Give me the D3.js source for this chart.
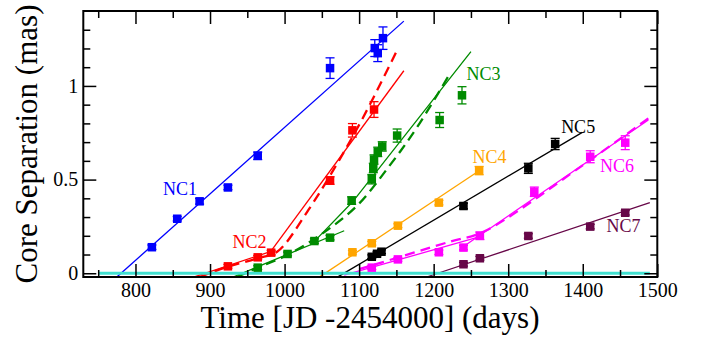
<!DOCTYPE html>
<html><head><meta charset="utf-8">
<script src="https://cdn.jsdelivr.net/npm/d3@7"></script>
<style>
body{margin:0;background:#fff}
svg{display:block}
text{font-family:"Liberation Serif","Times New Roman",serif}
</style>
</head><body>
<svg id="c" width="712" height="343"></svg>
<script>
// ---- tick labels ----
const xTicks=[800,900,1000,1100,1200,1300,1400,1500];
const xMinorTicks=[750,850,950,1050,1150,1250,1350,1450];
const yTicks=[0,0.5,1];
const yMinorTicks=[0.1,0.2,0.3,0.4,0.6,0.7,0.8,0.9,1.1,1.2,1.3];
const xTitle="Time [JD -2454000] (days)";
const yTitle="Core Separation (mas)";

// ---- series (time, separation, error) ----
const nc1Time=[822,856,886,924,964,1061,1121,1125,1132];
const nc1Sep=[0.139,0.291,0.384,0.458,0.627,1.095,1.202,1.175,1.255];
const nc1Err=[0.012,0.012,0.015,0.012,0.02,0.055,0.045,0.045,0.06];

const nc2Time=[924,964,982,1061,1091,1120];
const nc2Sep=[0.037,0.085,0.11,0.495,0.763,0.874];
const nc2Err=[0.01,0.01,0.012,0.02,0.036,0.042];

const nc3Time=[964,1004,1040,1061,1090,1117,1119,1120,1125,1131,1151,1208,1238];
const nc3Sep=[0.03,0.103,0.172,0.19,0.388,0.502,0.562,0.607,0.648,0.677,0.735,0.818,0.95];
const nc3Err=[0.01,0.01,0.012,0.012,0.02,0.025,0.025,0.025,0.025,0.025,0.035,0.04,0.046];

const nc4Time=[1091,1117,1152,1207,1261];
const nc4Sep=[0.112,0.16,0.254,0.377,0.548];
const nc4Err=[0.01,0.01,0.01,0.012,0.022];

const nc5Time=[1117,1124,1130,1240,1327,1363];
const nc5Sep=[0.088,0.104,0.115,0.359,0.56,0.69];
const nc5Err=[0.01,0.01,0.01,0.015,0.027,0.03];

const nc6Time=[1117,1152,1207,1240,1262,1335,1410,1457];
const nc6Sep=[0.03,0.074,0.112,0.137,0.2,0.435,0.622,0.697];
const nc6Err=[0.01,0.01,0.012,0.012,0.02,0.025,0.032,0.037];

const nc7Time=[1240,1262,1327,1410,1457];
const nc7Sep=[0.048,0.08,0.199,0.249,0.323];
const nc7Err=[0.01,0.01,0.012,0.012,0.012];

// ---- fitted lines: [time, separation] vertices ----
const nc1Fit=[[775,-0.02],[1160,1.346]];
const nc2FitEarly=[[880,-0.018],[983,0.118]];
const nc2FitLate=[[982,0.12],[1160,1.081]];
const nc2Curve=[[886,-0.02],[924,0.035],[964,0.08],[990,0.115],[1032,0.338],[1097,0.77],[1150,1.183]];
const nc3FitEarly=[[931,-0.02],[1080,0.227]];
const nc3FitLate=[[1040,0.17],[1091,0.38],[1250,1.183]];
const nc3Curve=[[936,-0.02],[964,0.03],[1004,0.098],[1050,0.21],[1097,0.36],[1140,0.57],[1177,0.775],[1222,1.067]];
const nc4Fit=[[1047.6,-0.018],[1262,0.55]];
const nc5Fit=[[1072,-0.018],[1399.4,0.752]];
const nc6FitEarly=[[1080,-0.01],[1262,0.195]];
const nc6FitLate=[[1239,0.14],[1488,0.818]];
const nc6Curve=[[1100,0.022],[1119,0.044],[1222,0.169],[1266,0.22],[1396,0.565],[1488,0.827]];
const nc7Fit=[[1190.6,-0.02],[1490,0.377]];
const zeroLine=[[750,0],[1490,0]];

// ---- series labels ----
const labelNames=["NC1","NC2","NC3","NC4","NC5","NC6","NC7"];
const labelX=[837,930,1244,1252,1371,1423,1432];
const labelY=[0.418,0.135,1.032,0.589,0.749,0.541,0.22];

const svg=d3.select("#c");
const W=712,H=343;
svg.append("rect").attr("width",W).attr("height",H).attr("fill","#fff");

const x=d3.scaleLinear().domain([730,1500]).range([83.3,657.3]);
const y=d3.scaleLinear().domain([-0.02,1.4]).range([277,11]);

const C={nc1:"#0000ff",nc2:"#ff0000",nc3:"#008b00",nc4:"#ffa500",nc5:"#000000",nc6:"#ff00ff",nc7:"#670748",zero:"#40e0d0"};
const labelCols=[C.nc1,C.nc2,C.nc3,C.nc4,C.nc5,C.nc6,C.nc7];

const line=d3.line().x(d=>x(d[0])).y(d=>y(d[1]));
const curve=d3.line().x(d=>x(d[0])).y(d=>y(d[1])).curve(d3.curveCatmullRom);

const plot=svg.append("g");
function drawLine(pts,col,dashed,isCurve){
  plot.append("path").attr("d",(isCurve?curve:line)(pts)).attr("fill","none")
    .attr("stroke",col).attr("stroke-width",dashed?2.3:1.3)
    .attr("stroke-dasharray",dashed?"10,6":null);
}
drawLine(nc1Fit,C.nc1);
drawLine(nc2FitEarly,C.nc2);
drawLine(nc2FitLate,C.nc2);
drawLine(nc2Curve,C.nc2,true,true);
drawLine(nc3FitEarly,C.nc3);
drawLine(nc3FitLate,C.nc3);
drawLine(nc3Curve,C.nc3,true,true);
drawLine(nc4Fit,C.nc4);
drawLine(nc5Fit,C.nc5);
drawLine(nc6FitEarly,C.nc6);
drawLine(nc6FitLate,C.nc6);
drawLine(nc6Curve,C.nc6,true,true);
drawLine(nc7Fit,C.nc7);

plot.append("path").attr("d",line(zeroLine)).attr("stroke",C.zero).attr("stroke-width",3).attr("fill","none");

function drawSeries(t,s,e,col){
  const g=plot.append("g");
  t.forEach((ti,i)=>{
    const cx=x(ti),y1=y(s[i]+e[i]),y2=y(s[i]-e[i]);
    g.append("line").attr("x1",cx).attr("x2",cx).attr("y1",y1).attr("y2",y2).attr("stroke",col).attr("stroke-width",1.3);
    [y1,y2].forEach(yy=>g.append("line").attr("x1",cx-4.5).attr("x2",cx+4.5).attr("y1",yy).attr("y2",yy).attr("stroke",col).attr("stroke-width",1.3));
    g.append("rect").attr("x",cx-4.25).attr("y",y(s[i])-4.25).attr("width",8.5).attr("height",8.5).attr("fill",col);
  });
}
drawSeries(nc1Time,nc1Sep,nc1Err,C.nc1);
drawSeries(nc2Time,nc2Sep,nc2Err,C.nc2);
drawSeries(nc3Time,nc3Sep,nc3Err,C.nc3);
drawSeries(nc4Time,nc4Sep,nc4Err,C.nc4);
drawSeries(nc5Time,nc5Sep,nc5Err,C.nc5);
drawSeries(nc6Time,nc6Sep,nc6Err,C.nc6);
drawSeries(nc7Time,nc7Sep,nc7Err,C.nc7);

labelNames.forEach((n,i)=>{
  svg.append("text").attr("x",x(labelX[i])).attr("y",y(labelY[i])).attr("fill",labelCols[i])
    .attr("font-size",18).text(n);
});

// axes
function styleAxis(g){
  g.select(".domain").remove();
  g.attr("font-family",null);
  g.selectAll(".tick line").attr("stroke","#000").attr("stroke-width",1.5);
  g.selectAll(".tick text").attr("font-size",20).attr("fill","#000");
}
const maj=13,mnr=7;
svg.append("g").attr("transform","translate(0,277)")
  .call(d3.axisBottom(x).tickValues(xTicks).tickSize(-maj).tickPadding(6).tickFormat(d3.format("d"))).call(styleAxis);
svg.append("g").attr("transform","translate(0,277)")
  .call(d3.axisBottom(x).tickValues(xMinorTicks).tickSize(-mnr).tickFormat("")).call(styleAxis);
svg.append("g").attr("transform","translate(0,11)")
  .call(d3.axisTop(x).tickValues(xTicks).tickSize(-maj).tickFormat("")).call(styleAxis);
svg.append("g").attr("transform","translate(0,11)")
  .call(d3.axisTop(x).tickValues(xMinorTicks).tickSize(-mnr).tickFormat("")).call(styleAxis);
svg.append("g").attr("transform","translate(83.3,0)")
  .call(d3.axisLeft(y).tickValues(yTicks).tickSize(-maj).tickPadding(5).tickFormat(d=>d3.format("~g")(d))).call(styleAxis);
svg.append("g").attr("transform","translate(83.3,0)")
  .call(d3.axisLeft(y).tickValues(yMinorTicks).tickSize(-mnr).tickFormat("")).call(styleAxis);
svg.append("g").attr("transform","translate(657.3,0)")
  .call(d3.axisRight(y).tickValues(yTicks).tickSize(-maj).tickFormat("")).call(styleAxis);
svg.append("g").attr("transform","translate(657.3,0)")
  .call(d3.axisRight(y).tickValues(yMinorTicks).tickSize(-mnr).tickFormat("")).call(styleAxis);

svg.append("rect").attr("x",83.3).attr("y",11).attr("width",574).attr("height",266)
  .attr("fill","none").attr("stroke","#000").attr("stroke-width",2);

svg.append("text").attr("x",370).attr("y",328).attr("text-anchor","middle").attr("font-size",31).text(xTitle);
svg.append("text").attr("transform","translate(37,144) rotate(-90)").attr("text-anchor","middle").attr("font-size",31).text(yTitle);
</script>
</body></html>
